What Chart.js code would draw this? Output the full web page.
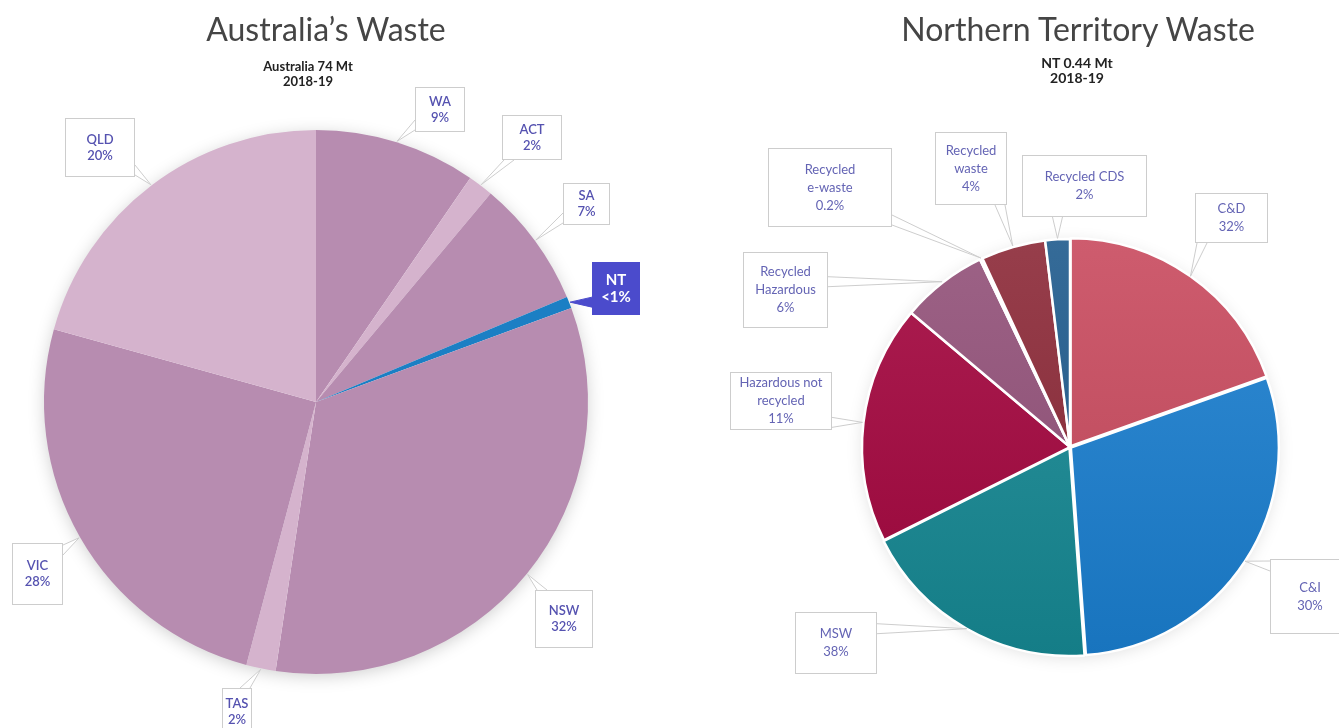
<!DOCTYPE html>
<html lang="en">
<head>
<meta charset="UTF-8">
<title>Australia's Waste / Northern Territory Waste</title>
<script src="https://cdn.jsdelivr.net/npm/chart.js"></script>
<style>
    body { margin: 0; background: #fff; font-family: Lato, "Open Sans", sans-serif; }
    #page { position: relative; width: 1339px; height: 728px; overflow: hidden; }
    canvas { position: absolute; top: 0; }
    .title { position: absolute; width: 600px; text-align: center; font-size: 32px; color: #454545; top: 9px; line-height: 40px; }
    .sub { position: absolute; width: 300px; text-align: center; font-size: 13px; font-weight: 700; color: #222; line-height: 15px; }
</style>
</head>
<body>
<div id="page">
    <canvas id="aus" width="670" height="728" style="left:0"></canvas>
    <canvas id="nt" width="669" height="728" style="left:670px"></canvas>
    <div class="title" style="left:26px">Australia’s Waste</div>
    <div class="sub" style="left:158px;top:59px">Australia 74 Mt<br>2018-19</div>
    <div class="title" style="left:778px">Northern Territory Waste</div>
    <div class="sub" style="left:927px;top:55px;font-size:14px">NT 0.44 Mt<br>2018-19</div>
</div>
<script>
// left pie: states, share of national waste (slice sizes)
const ausStates = ['WA', 'ACT', 'SA', 'NT', 'NSW', 'TAS', 'VIC', 'QLD'];
const ausShares = [9.6, 1.5, 7.6, 0.7, 33.0, 1.75, 25.2, 20.7];
const ausTags = ['9%', '2%', '7%', '<1%', '32%', '2%', '28%', '20%'];

// right pie: NT waste streams
const ntStreams = ['C&D', 'C&I', 'MSW', 'Hazardous not recycled', 'Recycled Hazardous',
                   'Recycled e-waste', 'Recycled waste', 'Recycled CDS'];
const ntShares = [19.5, 29.2, 18.7, 18.5, 6.7, 0.2, 5.0, 1.9];
const ntTags = ['32%', '30%', '38%', '11%', '6%', '0.2%', '4%', '2%'];

const ausColors = ['#b78cb0', '#d5b3cd', '#b78cb0', '#1b7fc4', '#b78cb0', '#d5b3cd', '#b78cb0', '#d5b3cd'];
const ntColors = ['#c84a5e', '#1a7ecf', '#168893', '#a3053e', '#925079', '#b09aa5', '#8b2937', '#1f5a8d'];

// callout boxes [x, y, w, h] in canvas pixels, and how the label text wraps
const ausBoxes = [
    {r: [415, 87, 50, 45], lines: ['WA']},
    {r: [502, 115, 60, 45], lines: ['ACT']},
    {r: [563, 183, 47, 42], lines: ['SA']},
    {r: [592, 262, 48, 53], lines: ['NT'], filled: true},
    {r: [535, 590, 58, 58], lines: ['NSW']},
    {r: [222, 688, 30, 48], lines: ['TAS']},
    {r: [12, 543, 51, 62], lines: ['VIC']},
    {r: [65, 118, 70, 59], lines: ['QLD']}
];
const ntBoxes = [
    {r: [525, 193, 73, 50], lines: ['C&D']},
    {r: [600, 559, 80, 75], lines: ['C&I']},
    {r: [125, 612, 82, 62], lines: ['MSW']},
    {r: [60, 372, 102, 58], lines: ['Hazardous not', 'recycled']},
    {r: [73, 252, 85, 76], lines: ['Recycled', 'Hazardous']},
    {r: [98, 148, 124, 79], lines: ['Recycled', 'e-waste']},
    {r: [265, 132, 72, 73], lines: ['Recycled', 'waste']},
    {r: [352, 155, 125, 62], lines: ['Recycled CDS']}
];

function shade(hex, amt) {
    const n = parseInt(hex.slice(1), 16);
    const f = c => Math.round(amt >= 0 ? c + (255 - c) * amt : c * (1 + amt));
    return `rgb(${f(n >> 16)},${f((n >> 8) & 255)},${f(n & 255)})`;
}

const callouts = {
    id: 'callouts',
    beforeDatasetsDraw(chart, args, opts) {
        const arc = chart.getDatasetMeta(0).data[0];
        if (!arc) return;
        const p = arc.getProps(['x', 'y', 'outerRadius'], true);
        const c = chart.ctx;
        c.save();
        c.shadowColor = opts.shadow;
        c.shadowBlur = 18;
        c.shadowOffsetY = 3;
        c.beginPath();
        c.arc(p.x, p.y, p.outerRadius - 2, 0, Math.PI * 2);
        c.fillStyle = '#fff';
        c.fill();
        c.restore();
    },
    afterDatasetsDraw(chart, args, opts) {
        const c = chart.ctx;
        chart.getDatasetMeta(0).data.forEach((arc, i) => {
            const b = opts.boxes[i];
            const p = arc.getProps(['x', 'y', 'startAngle', 'endAngle', 'outerRadius'], true);
            const mid = (p.startAngle + p.endAngle) / 2;
            const ax = p.x + Math.cos(mid) * (p.outerRadius + 1);
            const ay = p.y + Math.sin(mid) * (p.outerRadius + 1);
            const [bx, by, bw, bh] = b.r;
            const dx = ax < bx ? bx - ax : (ax > bx + bw ? ax - bx - bw : 0);
            const dy = ay < by ? by - ay : (ay > by + bh ? ay - by - bh : 0);
            let p1, p2;
            if (dx > dy) {
                const ex = ax < bx ? bx : bx + bw;
                const ey = Math.min(Math.max(ay, by + 7), by + bh - 7);
                p1 = [ex, ey - 5]; p2 = [ex, ey + 5];
            } else {
                const ey = ay < by ? by : by + bh;
                const ex = Math.min(Math.max(ax, bx + 7), bx + bw - 7);
                p1 = [ex - 5, ey]; p2 = [ex + 5, ey];
            }
            const fill = b.filled ? '#4b4bcc' : '#fff';
            const line = b.filled ? '#4b4bcc' : '#cdcdcd';
            c.save();
            c.lineWidth = 1;
            c.fillStyle = fill;
            c.strokeStyle = line;
            c.fillRect(bx, by, bw, bh);
            c.strokeRect(bx + 0.5, by + 0.5, bw - 1, bh - 1);
            c.beginPath();
            c.moveTo(p1[0], p1[1]);
            c.lineTo(ax, ay);
            c.lineTo(p2[0], p2[1]);
            c.closePath();
            c.fill();
            c.beginPath();
            c.moveTo(p1[0], p1[1]);
            c.lineTo(ax, ay);
            c.lineTo(p2[0], p2[1]);
            c.stroke();
            const lines = b.lines.concat([opts.tags[i]]);
            c.font = b.filled ? `700 ${opts.size + 2}px Lato` : `${opts.weight} ${opts.size}px Lato`;
            c.fillStyle = b.filled ? '#fff' : opts.color;
            c.textAlign = 'center';
            c.textBaseline = 'middle';
            const lh = b.filled ? 17 : opts.lh;
            const top = by + bh / 2 - (lines.length - 1) * lh / 2;
            lines.forEach((t, k) => c.fillText(t, bx + bw / 2, top + k * lh));
            c.restore();
        });
    }
};

function gradientFill(colors) {
    return ctx => {
        const base = colors[ctx.dataIndex];
        const area = ctx.chart.chartArea;
        if (!area) return base;
        const g = ctx.chart.ctx.createLinearGradient(0, area.top, 0, area.bottom);
        g.addColorStop(0, shade(base, 0.1));
        g.addColorStop(1, shade(base, -0.08));
        return g;
    };
}

new Chart(document.getElementById('aus'), {
    type: 'pie',
    data: {
        labels: ausStates,
        datasets: [{
            data: ausShares,
            backgroundColor: ausColors,
            borderWidth: 0,
            radius: 272
        }]
    },
    options: {
        responsive: false,
        animation: false,
        layout: { padding: { left: 40, right: 78, top: 100, bottom: 24 } },
        plugins: {
            legend: { display: false },
            tooltip: { enabled: false },
            callouts: { boxes: ausBoxes, tags: ausTags, size: 13, lh: 16, weight: 600, color: '#5552b0', shadow: 'rgba(0,0,0,0.22)' }
        }
    },
    plugins: [callouts]
});

new Chart(document.getElementById('nt'), {
    type: 'pie',
    data: {
        labels: ntStreams,
        datasets: [{
            data: ntShares,
            backgroundColor: gradientFill(ntColors),
            borderColor: '#fff',
            borderWidth: 2.5,
            offset: [4, 4, 4, 0, 0, 0, 0, 0],
            radius: 208
        }]
    },
    options: {
        responsive: false,
        animation: false,
        layout: { padding: { left: 190, right: 59, top: 237, bottom: 71 } },
        plugins: {
            legend: { display: false },
            tooltip: { enabled: false },
            callouts: { boxes: ntBoxes, tags: ntTags, size: 13, lh: 18, weight: 400, color: '#6464b4', shadow: 'rgba(0,0,0,0.15)' }
        }
    },
    plugins: [callouts]
});
</script>
</body>
</html>
